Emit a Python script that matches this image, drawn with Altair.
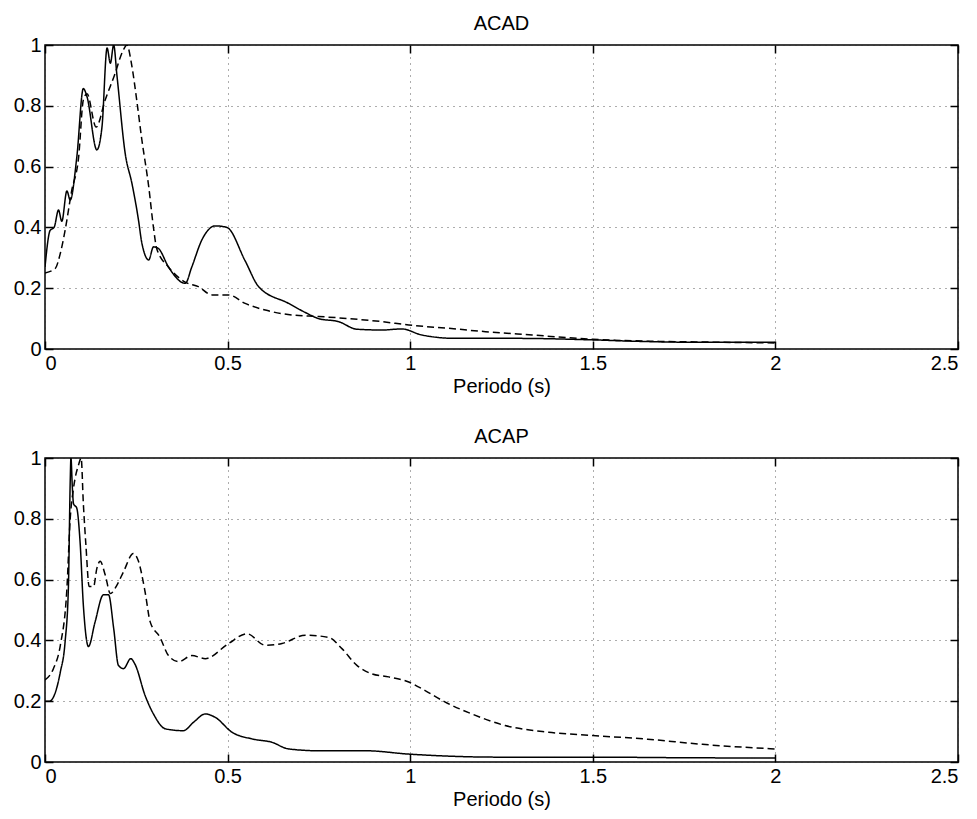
import altair as alt
import pandas as pd

# ---------------- data ----------------
# ACAD (top panel)
acad_solid_x = [0.0, 0.014, 0.025, 0.037, 0.046, 0.06, 0.069, 0.087, 0.105, 0.115, 0.142, 0.156,
                0.17, 0.179, 0.188, 0.197, 0.22, 0.238, 0.256, 0.265, 0.284, 0.297, 0.311, 0.338,
                0.384, 0.402, 0.43, 0.466, 0.498, 0.548, 0.585, 0.667, 0.713, 0.749, 0.804, 0.854,
                0.923, 0.977, 1.032, 1.124, 1.29, 1.5, 1.63, 1.8, 2.0]
acad_solid_y = [0.27, 0.39, 0.40, 0.457, 0.42, 0.52, 0.49, 0.63, 0.857, 0.83, 0.655, 0.73,
                0.99, 0.94, 1.0, 0.90, 0.64, 0.545, 0.424, 0.35, 0.293, 0.336, 0.33, 0.27,
                0.216, 0.27, 0.36, 0.405, 0.40, 0.29, 0.205, 0.15, 0.12, 0.10, 0.09, 0.065,
                0.0625, 0.066, 0.046, 0.035, 0.035, 0.03, 0.025, 0.022, 0.022]
acad_dash_x = [0.0, 0.028, 0.042, 0.055, 0.073, 0.092, 0.105, 0.115, 0.14, 0.165, 0.19, 0.215,
               0.224, 0.238, 0.251, 0.265, 0.284, 0.297, 0.306, 0.338, 0.384, 0.42, 0.457, 0.503,
               0.548, 0.603, 0.676, 0.749, 0.831, 0.923, 0.996, 1.105, 1.206, 1.334, 1.5, 1.61,
               1.8, 2.0]
acad_dash_y = [0.25, 0.265, 0.315, 0.39, 0.52, 0.63, 0.82, 0.84, 0.73, 0.82, 0.90, 0.985,
               1.0, 0.93, 0.82, 0.69, 0.534, 0.40, 0.33, 0.27, 0.22, 0.205, 0.178, 0.178,
               0.15, 0.128, 0.112, 0.107, 0.10, 0.09, 0.079, 0.068, 0.057, 0.046, 0.032, 0.027,
               0.023, 0.02]

# ACAP (bottom panel)
acap_solid_x = [0.0, 0.012, 0.042, 0.055, 0.064, 0.069, 0.071, 0.075, 0.078, 0.087, 0.096, 0.105,
                0.119, 0.137, 0.16, 0.174, 0.188, 0.201, 0.215, 0.235, 0.247, 0.274, 0.297, 0.33,
                0.379, 0.407, 0.439, 0.466, 0.512, 0.567, 0.621, 0.667, 0.749, 0.877, 0.996, 1.242,
                1.5, 1.75, 2.0]
acap_solid_y = [0.2, 0.2, 0.296, 0.395, 0.571, 0.92, 1.0, 0.90, 0.85, 0.835, 0.725, 0.516,
                0.38, 0.46, 0.55, 0.55, 0.44, 0.318, 0.307, 0.34, 0.32, 0.219, 0.158, 0.109,
                0.103, 0.131, 0.158, 0.147, 0.098, 0.076, 0.065, 0.043, 0.037, 0.037, 0.026, 0.016,
                0.016, 0.014, 0.013]
acap_dash_x = [0.0, 0.023, 0.042, 0.06, 0.069, 0.078, 0.092, 0.099, 0.105, 0.112, 0.121, 0.133,
               0.142, 0.151, 0.165, 0.179, 0.197, 0.215, 0.242, 0.256, 0.274, 0.288, 0.315, 0.338,
               0.366, 0.402, 0.439, 0.503, 0.553, 0.603, 0.649, 0.713, 0.777, 0.813, 0.854, 0.895,
               0.941, 0.996, 1.041, 1.096, 1.169, 1.26, 1.379, 1.5, 1.65, 1.8, 2.0]
acap_dash_y = [0.27, 0.307, 0.384, 0.571, 0.80, 0.90, 0.978, 1.0, 0.85, 0.714, 0.577, 0.577,
               0.637, 0.66, 0.615, 0.554, 0.582, 0.626, 0.686, 0.66, 0.56, 0.461, 0.41, 0.35,
               0.33, 0.35, 0.34, 0.39, 0.422, 0.384, 0.39, 0.417, 0.41, 0.373, 0.318, 0.29,
               0.28, 0.263, 0.235, 0.197, 0.158, 0.12, 0.098, 0.087, 0.075, 0.058, 0.043]

x_ticks = [0, 0.5, 1, 1.5, 2, 2.5]
y_ticks = [0, 0.2, 0.4, 0.6, 0.8, 1]

FONT = "Liberation Sans"
FS = 20
W, H = 913, 304
TICK = 8


def panel(title, sx, sy, dx, dy):
    df = pd.DataFrame({
        "x": sx + dx,
        "y": sy + dy,
        "s": ["solid"] * len(sx) + ["dashed"] * len(dx),
    })
    xs = alt.Scale(domain=[0, 2.5], nice=False, zero=False)
    ys = alt.Scale(domain=[0, 1], nice=False, zero=False)
    base = alt.Chart(df)
    lines = base.mark_line(color="black", strokeWidth=1.5, clip=True,
                           interpolate="monotone").encode(
        x=alt.X("x:Q", scale=xs, axis=alt.Axis(
            values=x_ticks, format="~g", title="Periodo (s)", grid=True,
            domain=False, offset=-TICK, tickSize=TICK, labelPadding=4,
            titlePadding=3)),
        y=alt.Y("y:Q", scale=ys, axis=alt.Axis(
            values=y_ticks, format="~g", title=None, grid=True,
            domain=False, offset=-TICK, tickSize=TICK, labelPadding=4,
            minExtent=38, maxExtent=38)),
        strokeDash=alt.StrokeDash("s:N", scale=alt.Scale(
            domain=["solid", "dashed"], range=[[1, 0], [7, 4]]), legend=None),
        detail="s:N",
    )
    ticks = base.mark_line(opacity=0).encode(
        x=alt.X("x:Q", scale=xs, axis=alt.Axis(
            orient="top", values=x_ticks, labels=False, grid=False, domain=False,
            title=None, offset=-TICK, tickSize=TICK)),
        y=alt.Y("y:Q", scale=ys, axis=alt.Axis(
            orient="right", values=y_ticks, labels=False, grid=False, domain=False,
            title=None, offset=-TICK, tickSize=TICK, minExtent=0, maxExtent=0)),
    )
    return alt.layer(lines, ticks).resolve_axis(
        x="independent", y="independent"
    ).properties(
        width=W, height=H,
        title=alt.TitleParams(title, fontSize=FS, font=FONT, fontWeight="normal",
                              offset=1, anchor="middle", color="black"),
    )


top = panel("ACAD", acad_solid_x, acad_solid_y, acad_dash_x, acad_dash_y)
bottom = panel("ACAP", acap_solid_x, acap_solid_y, acap_dash_x, acap_dash_y)

chart = alt.vconcat(top, bottom, spacing=29).properties(
    padding={"left": 4, "top": 5, "right": 5, "bottom": 5},
    background="white",
).configure_view(
    stroke="black", strokeWidth=1.5
).configure_axis(
    labelFont=FONT, titleFont=FONT, labelFontSize=FS, titleFontSize=FS,
    labelColor="black", titleColor="black", titleFontWeight="normal",
    tickColor="black", tickWidth=1.5,
    gridColor="#333333", gridDash=[1, 5], gridWidth=1, gridOpacity=0.8,
)

chart.save("out.html", embed_options={"renderer": "svg", "actions": False})
